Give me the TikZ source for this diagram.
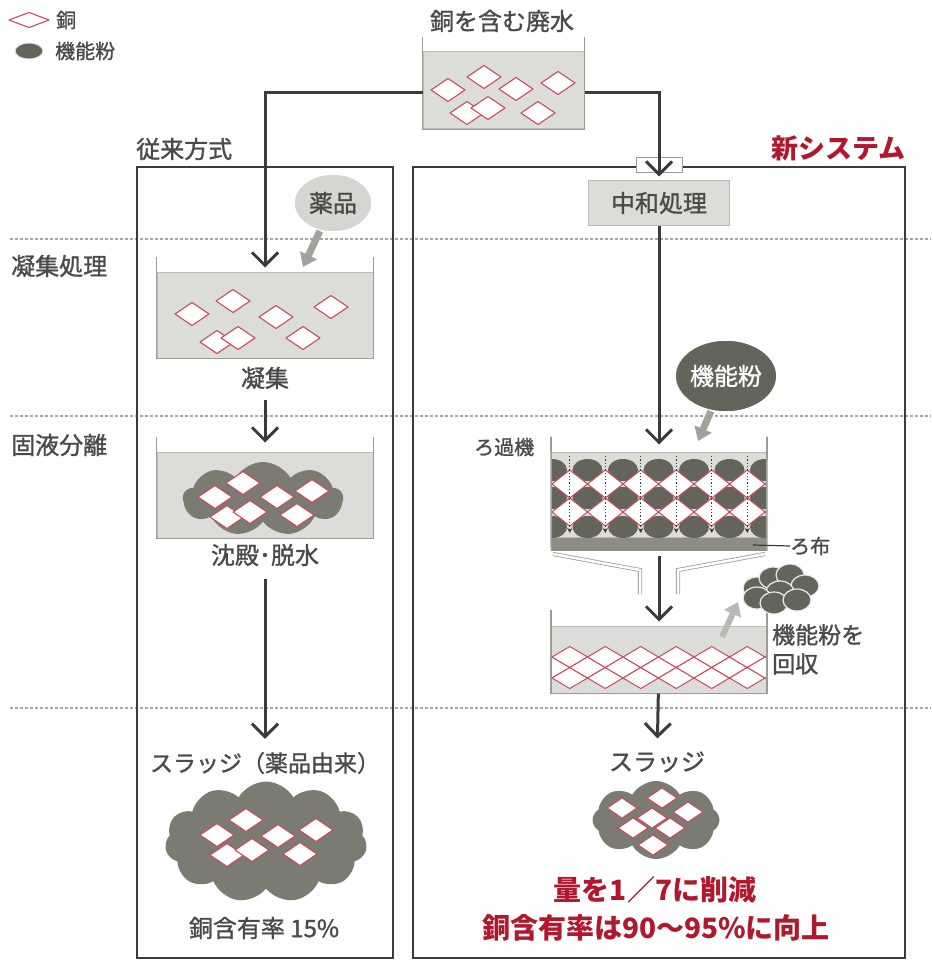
\documentclass[tikz,border=0pt]{standalone}
\usepackage{fontspec}
\setmainfont{Noto Sans CJK JP}
\newfontfamily\labelfont{Noto Sans CJK JP}[FakeBold=1.2]
\usepackage{xcolor}
\usepackage{tikz}
\usetikzlibrary{arrows.meta, positioning, shapes.geometric, shapes.symbols}
\definecolor{ink}{HTML}{3B3B37}
\definecolor{labelgray}{HTML}{4A4A47}
\definecolor{watergray}{HTML}{DCDCD8}
\definecolor{wallgray}{HTML}{9C9C97}
\definecolor{sludgegray}{HTML}{7C7B72}
\definecolor{powdergray}{HTML}{65645B}
\definecolor{clothgray}{HTML}{8E8D85}
\definecolor{tailgray}{HTML}{A2A19B}
\definecolor{copperred}{HTML}{CB4A5F}
\definecolor{alertred}{HTML}{B0182D}

\begin{document}
\begin{tikzpicture}[x=1pt, y=-1pt,
    lbl/.style={inner sep=0pt, text=labelgray, font=\labelfont\fontsize{24}{28}\selectfont},
    small/.style={font=\labelfont\fontsize{20}{24}\selectfont},
    alert/.style={inner sep=0pt, text=alertred, font=\bfseries\fontsize{28}{32}\selectfont},
    stage/.style={draw=gray!70, line width=1.2pt, dash pattern=on 3pt off 2pt},
    column/.style={draw=ink, line width=1.5pt},
    water/.style={rectangle, fill=watergray, draw=wallgray!70, line width=1pt, inner sep=0pt},
    wall/.style={draw=wallgray, line width=1.6pt},
    flow/.style={draw=ink, line width=3pt, -{Straight Barb[length=13pt, width=26pt]}},
    tail/.style={draw=tailgray, line width=7pt, -{Triangle[length=13pt, width=18pt]}},
    bubble/.style={ellipse, draw=white, line width=1.5pt, inner sep=0pt},
    blob/.style={cloud, cloud puffs=10, cloud puff arc=120, cloud ignores aspect, fill=sludgegray, inner sep=0pt},
    copper/.style={fill=white, draw=copperred, line width=1.1pt, line join=round},
    mesh/.style={fill=white, draw=copperred, line width=1pt},
    seep/.style={draw=ink, line width=1.3pt, dotted, -{Stealth[length=5pt, width=5pt]}},
    funnel/.style={draw=wallgray, line width=0.8pt, double=white, double distance=2.5pt},
    pics/cu/.style={code={\filldraw[copper] (-17,0) -- (0,-11.5) -- (17,0) -- (0,11.5) -- cycle;}}
  ]
  \useasboundingbox (0,0) rectangle (933,960);

  % Stage separators
  \foreach \y in {239,416,708}
    \draw[stage] (10,\y) -- (931,\y);

  % Columns and headings
  \draw[column] (137,167) rectangle (393,958);
  \draw[column] (413,167) rectangle (905,958);
  \node[lbl, anchor=west] (oldHead) at (136,149) {従来方式};
  \node[alert, anchor=east, font=\bfseries\fontsize{27}{32}\selectfont] (newHead) at (906,148) {新システム};
  \node[lbl, anchor=west] (rowCoag) at (11,266) {凝集処理};
  \node[lbl, anchor=west] (rowSep) at (11,445) {固液分離};

  % Legend
  \filldraw[copper] (29,20) +(-20,0) -- +(0,-7.5) -- +(20,0) -- +(0,7.5) -- cycle;
  \node[lbl, small, anchor=west] (keyCu) at (56,20) {銅};
  \filldraw[fill=powdergray, draw=white!80!gray, line width=1pt] (29,51) ellipse (14 and 8);
  \node[lbl, small, anchor=west] (keyPowder) at (55,51) {機能粉};

  % Waste water tank
  \node[lbl] (srcHead) at (502,21) {銅を含む廃水};
  \node[water, minimum width=161pt, minimum height=77pt] (src) at (503.5,90.5) {};
  \draw[wall] ([yshift=14pt]src.north west) -- (src.south west) -- (src.south east) -- ([yshift=14pt]src.north east);
  \foreach \x/\y in {448/90, 484/77, 516/89, 558/83, 467/113, 488/108, 538/113}
    \pic at (\x,\y) {cu};

  % Conventional: coagulation
  \node[water, minimum width=216pt, minimum height=86pt] (coag) at (265,315) {};
  \draw[wall] ([yshift=15pt]coag.north west) -- (coag.south west) -- (coag.south east) -- ([yshift=15pt]coag.north east);
  \foreach \x/\y in {192/314, 233/301, 276/317, 331/307, 217/342, 238/338, 303/338}
    \pic at (\x,\y) {cu};
  \node[lbl] (coagLbl) at (265,378) {凝集};

  % Chemicals
  \node[bubble, lbl, fill=watergray!92!gray, minimum width=78pt, minimum height=58pt] (drug) at (333,203) {薬品};
  \coordinate (drugTip) at (303,267);
  \draw[tail] (drug) -- (drugTip);

  % Conventional: settling
  \node[water, minimum width=216pt, minimum height=86pt] (settle) at (265,495) {};
  \draw[wall] ([yshift=15pt]settle.north west) -- (settle.south west) -- (settle.south east) -- ([yshift=15pt]settle.north east);
  \node[blob, cloud puffs=9, minimum width=160pt, minimum height=74pt] (floc) at (263,499) {};
  \foreach \x/\y in {215/497, 243/483, 277/497, 312/491, 227/517, 250/512, 297/515}
    \pic at (\x,\y) {cu};
  \node[lbl] (settleLbl) at (265,555) {沈殿･脱水};

  % Conventional sludge
  \node[lbl, font=\labelfont\fontsize{23}{28}\selectfont] (sludgeOld) at (265,763) {スラッジ（薬品由来）};
  \node[blob, cloud puffs=11, minimum width=202pt, minimum height=121pt] (mudOld) at (266,842) {};
  \foreach \x/\y in {217/835, 246/820, 278/836, 316/830, 227/855, 252/850, 300/854}
    \pic at (\x,\y) {cu};
  \node[lbl] (rateOld) at (264,928) {銅含有率 15\%};

  % New system: neutralisation
  \draw[wall, fill=white, line width=1pt] (636,158) rectangle (682,173);
  \node[lbl, rectangle, fill=watergray, draw=wallgray!70, line width=1pt, minimum width=141pt, minimum height=44pt] (neutral) at (659,203) {中和処理};

  % Functional powder
  \node[bubble, lbl, fill=powdergray, text=white, minimum width=82pt, minimum height=72pt] (agent) at (726,376) {機能粉};
  \coordinate (agentTip) at (698,441);
  \draw[tail] (agent) -- (agentTip);

  % Filter
  \node[water, minimum width=215pt, minimum height=85pt] (filter) at (659,494.5) {};
  \begin{scope}
    \clip (filter.north west) rectangle (filter.south east);
    \foreach \k in {0,...,6}
      \foreach \y in {470,498,527}
        \fill[powdergray] ({552+35.5*\k},\y) ellipse (15 and 11);
    \foreach \k in {-1,...,6}
      \foreach \y in {484,512}
        \filldraw[mesh] ({569.75+35.5*\k},\y) +(-17.75,0) -- +(0,-14) -- +(17.75,0) -- +(0,14) -- cycle;
  \end{scope}
  \foreach \k in {0,...,5}
    \draw[seep] ({569.75+35.5*\k},456) -- ({569.75+35.5*\k},533);
  \node[fill=clothgray, minimum width=215pt, minimum height=13pt, inner sep=0pt, anchor=north] (cloth) at (filter.south) {};
  \draw[wall] ([yshift=15pt]filter.north west) -- (cloth.south west);
  \draw[wall] ([yshift=15pt]filter.north east) -- (cloth.south east);
  \draw[funnel] (553,554) -- (640,570) -- (640,594);
  \draw[funnel] (765,554) -- (678,570) -- (678,594);
  \node[lbl, small, anchor=west] (filterLbl) at (474,447) {ろ過機};
  \node[lbl, small, anchor=west] (clothLbl) at (790,546) {ろ布};
  \draw[ink, line width=1.2pt] (753,545) -- (clothLbl.west);

  % Recovery tank
  \node[water, minimum width=215pt, minimum height=67pt] (recv) at (659,659.5) {};
  \begin{scope}
    \clip (recv.north west) rectangle (recv.south east);
    \foreach \k in {-1,...,6} {
      \filldraw[mesh] ({569.75+35.5*\k},657) +(-17.75,0) -- +(0,-10.5) -- +(17.75,0) -- +(0,10.5) -- cycle;
      \filldraw[mesh] ({569.75+35.5*\k},678) +(-17.75,0) -- +(0,-10.5) -- +(17.75,0) -- +(0,10.5) -- cycle;
      \filldraw[mesh] ({587.5+35.5*\k},667.5) +(-17.75,0) -- +(0,-10.5) -- +(17.75,0) -- +(0,10.5) -- cycle;
    }
  \end{scope}
  \draw[wall] ([yshift=16pt]recv.north west) -- (recv.south west) -- (recv.south east) -- ([yshift=16pt]recv.north east);

  % Recovered powder
  \foreach \x/\y in {757/588, 773/578, 790/575, 805/586, 780/592, 757/598, 774/603, 797/600}
    \filldraw[fill=powdergray, draw=white!85!gray, line width=1.2pt] (\x,\y) ellipse (14 and 11);
  \coordinate (riseFrom) at (722,637);
  \coordinate (riseTo) at (738,602);
  \draw[tail, draw=tailgray!75, line width=6pt] (riseFrom) -- (riseTo);
  \node[lbl, anchor=north west, align=left, font=\labelfont\fontsize{23}{29}\selectfont] (recLbl) at (772,624) {機能粉を\\回収};

  % New sludge
  \node[lbl] (sludgeNew) at (657,762) {スラッジ};
  \node[blob, cloud puffs=8, minimum width=127pt, minimum height=78pt] (mudNew) at (656,820) {};
  \foreach \x/\y in {622/808, 662/798, 652/818, 688/812, 633/828, 670/828, 653/845}
    \pic[scale=0.88] at (\x,\y) {cu};
  \node[alert] (cutLbl) at (655,890) {量を1／7に削減};
  \node[alert] (rateNew) at (656,928) {銅含有率は90〜95\%に向上};

  % Flow arrows
  \draw[flow, shorten >=4pt] ([yshift=-2.5pt]src.west) -| (coag.north);
  \draw[flow, shorten >=4pt] ([yshift=-2.5pt]src.east) -| (neutral.north);
  \draw[flow, shorten >=7pt] (neutral) -- (filter);
  \draw[flow, shorten <=5pt, shorten >=4pt] (cloth) -- (recv);
  \draw[flow, shorten >=13pt] (recv) -- (sludgeNew);
  \draw[flow, shorten <=11pt, shorten >=9pt] (coagLbl) -- (settle);
  \draw[flow, shorten <=13pt, shorten >=13pt] (settleLbl) -- (sludgeOld);
\end{tikzpicture}
\end{document}
